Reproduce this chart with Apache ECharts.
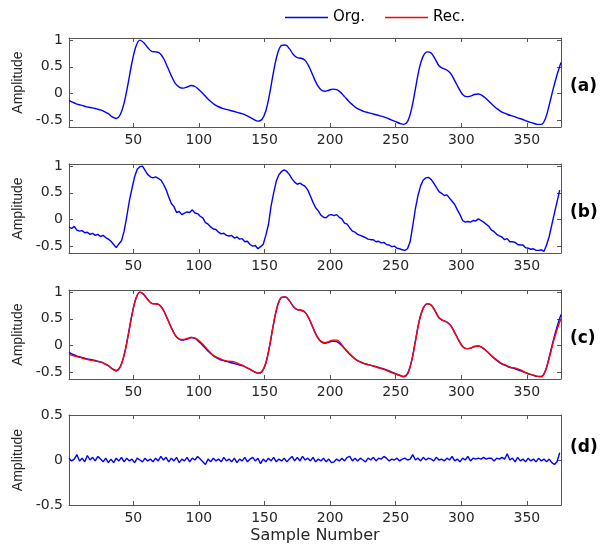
<!DOCTYPE html>
<html><head><meta charset="utf-8">
<script src="https://cdn.jsdelivr.net/npm/echarts@6/dist/echarts.min.js"></script>
<style>html,body{margin:0;padding:0;background:#fff}#c{width:602px;height:547px}</style>
</head><body><div id="c"></div>
<script>
// ---- data ----
// clean signal sampled every 3 samples starting at sample 1
const cleanFirst = 1, cleanStep = 3;
const orgVals = [
 -0.13,-0.17,-0.20,-0.22,-0.24,-0.26,-0.27,-0.29,-0.31,-0.34,
 -0.38,-0.44,-0.47,-0.40,-0.18,0.18,0.58,0.88,1.00,0.95,
 0.86,0.79,0.78,0.76,0.66,0.50,0.33,0.19,0.12,0.10,
 0.12,0.15,0.13,0.07,0.00,-0.08,-0.15,-0.21,-0.25,-0.28,
 -0.30,-0.32,-0.34,-0.36,-0.38,-0.41,-0.45,-0.49,-0.52,-0.49,
 -0.33,0.00,0.42,0.75,0.90,0.91,0.84,0.73,0.67,0.66,
 0.62,0.50,0.33,0.17,0.07,0.04,0.06,0.08,0.07,0.02,
 -0.06,-0.14,-0.21,-0.27,-0.31,-0.34,-0.36,-0.38,-0.40,-0.42,
 -0.44,-0.47,-0.50,-0.53,-0.56,-0.58,-0.53,-0.30,0.08,0.47,
 0.70,0.78,0.76,0.65,0.52,0.47,0.44,0.37,0.24,0.10,
 -0.02,-0.06,-0.05,-0.02,-0.01,-0.04,-0.10,-0.17,-0.24,-0.30,
 -0.35,-0.38,-0.41,-0.43,-0.46,-0.48,-0.51,-0.54,-0.56,-0.58,
 -0.58,-0.48,-0.22,0.08,0.35,0.58
];
const recVals = [
 -0.17,-0.19,-0.21,-0.23,-0.25,-0.27,-0.28,-0.30,-0.31,-0.34,
 -0.38,-0.44,-0.48,-0.41,-0.19,0.17,0.57,0.88,1.00,0.96,
 0.86,0.79,0.78,0.76,0.66,0.50,0.33,0.19,0.12,0.11,
 0.13,0.15,0.14,0.09,0.02,-0.06,-0.14,-0.20,-0.24,-0.27,
 -0.29,-0.30,-0.31,-0.34,-0.37,-0.41,-0.45,-0.49,-0.52,-0.50,
 -0.34,0.00,0.42,0.75,0.90,0.91,0.84,0.73,0.67,0.66,
 0.62,0.50,0.33,0.17,0.08,0.05,0.07,0.10,0.10,0.04,
 -0.05,-0.13,-0.21,-0.27,-0.31,-0.34,-0.36,-0.38,-0.40,-0.43,
 -0.45,-0.48,-0.51,-0.54,-0.56,-0.59,-0.54,-0.31,0.07,0.46,
 0.70,0.78,0.76,0.65,0.52,0.47,0.44,0.37,0.24,0.10,
 -0.02,-0.06,-0.05,-0.02,-0.01,-0.04,-0.10,-0.17,-0.23,-0.29,
 -0.34,-0.37,-0.41,-0.42,-0.44,-0.47,-0.51,-0.54,-0.56,-0.58,
 -0.59,-0.49,-0.24,0.05,0.30,0.50
];
// noisy signal and noise, every 2 samples starting at sample 1
const noisyFirst = 1, noisyStep = 2;
const noisyVals = [
 -0.14,-0.17,-0.13,-0.20,-0.22,-0.21,-0.25,-0.24,-0.28,-0.26,
 -0.30,-0.28,-0.32,-0.30,-0.34,-0.37,-0.41,-0.47,-0.53,-0.46,
 -0.40,-0.22,0.05,0.35,0.58,0.80,0.94,0.99,1.00,0.92,
 0.84,0.80,0.78,0.80,0.77,0.74,0.66,0.56,0.42,0.30,
 0.24,0.13,0.15,0.09,0.12,0.14,0.13,0.18,0.12,0.11,
 0.06,0.03,-0.06,-0.09,-0.14,-0.18,-0.19,-0.24,-0.27,-0.26,
 -0.30,-0.31,-0.30,-0.35,-0.33,-0.37,-0.36,-0.42,-0.41,-0.47,
 -0.50,-0.49,-0.55,-0.51,-0.47,-0.30,-0.10,0.25,0.50,0.72,
 0.84,0.90,0.93,0.90,0.84,0.76,0.70,0.66,0.68,0.65,
 0.62,0.55,0.44,0.32,0.22,0.16,0.08,0.04,0.03,0.08,
 0.09,0.07,0.09,0.04,0.01,-0.07,-0.09,-0.16,-0.22,-0.24,
 -0.28,-0.30,-0.32,-0.34,-0.37,-0.38,-0.38,-0.42,-0.41,-0.44,
 -0.43,-0.47,-0.48,-0.51,-0.50,-0.54,-0.55,-0.57,-0.58,-0.55,
 -0.42,-0.12,0.20,0.45,0.63,0.74,0.78,0.79,0.75,0.68,
 0.60,0.52,0.49,0.45,0.46,0.40,0.34,0.28,0.18,0.09,
 -0.02,-0.05,-0.04,-0.05,-0.02,-0.03,0.01,-0.02,-0.05,-0.09,
 -0.13,-0.20,-0.23,-0.28,-0.31,-0.33,-0.38,-0.36,-0.42,-0.42,
 -0.43,-0.47,-0.48,-0.48,-0.53,-0.54,-0.56,-0.55,-0.58,-0.58,
 -0.57,-0.60,-0.48,-0.32,-0.10,0.12,0.33,0.55
];
const noiseVals = [
 0.02,-0.01,0.01,0.06,-0.01,0.02,-0.02,0.05,0.00,0.03,
 -0.01,0.04,0.01,-0.02,0.02,-0.03,0.01,-0.03,0.02,-0.01,
 0.03,-0.02,0.02,-0.01,0.01,-0.03,0.02,0.00,-0.02,0.02,
 -0.01,0.01,-0.02,0.02,-0.01,0.04,0.00,0.03,-0.02,0.02,
 -0.01,0.03,-0.03,0.01,-0.01,0.03,-0.02,0.02,0.00,0.04,
 0.01,-0.02,-0.05,0.01,-0.02,0.02,-0.01,0.01,-0.02,0.03,
 -0.01,0.01,-0.02,0.02,-0.03,0.01,-0.01,0.03,-0.02,0.01,
 0.03,-0.01,0.02,-0.04,0.01,-0.02,0.02,-0.01,0.03,-0.02,
 0.01,-0.01,0.02,-0.02,0.01,0.04,-0.01,0.03,-0.01,0.04,
 0.00,0.02,-0.01,0.03,-0.02,0.01,-0.01,0.02,-0.02,0.01,
 -0.03,-0.02,0.01,-0.01,0.02,-0.01,0.03,0.04,-0.01,0.02,
 -0.01,0.02,0.00,-0.02,0.02,0.00,0.03,-0.01,0.02,0.01,
 0.04,0.02,-0.01,0.01,0.00,0.02,-0.01,0.01,0.02,0.00,
 0.01,0.06,0.00,0.02,-0.01,0.03,0.00,0.02,0.01,-0.01,
 0.03,0.00,0.01,-0.01,0.02,0.00,0.04,-0.01,0.01,-0.02,
 0.02,0.00,0.04,-0.01,0.02,0.01,0.02,0.01,0.03,0.01,
 0.02,0.02,-0.01,0.02,0.01,0.03,0.01,0.07,0.00,0.02,
 -0.02,0.03,-0.01,0.01,-0.02,0.02,-0.01,0.01,-0.02,0.02,
 -0.01,0.01,-0.02,0.01,-0.03,-0.05,-0.02,0.08
];
const xTicks = [50, 100, 150, 200, 250, 300, 350];
const ySigTicks = [-0.5, 0, 0.5, 1];
const yErrTicks = [-0.5, 0, 0.5];
const panelLabels = ['(a)', '(b)', '(c)', '(d)'];
const legendNames = ['Org.', 'Rec.'];
const xLabel = 'Sample Number';
const yLabel = 'Amplitude';

// ---- build ----
function pairs(first, step, vals) { return vals.map((v, i) => [first + i * step, v]); }

const WIDE = '"DejaVu Sans", "Liberation Sans", Arial, sans-serif';
const NARROW = '"Liberation Sans", Arial, Helvetica, sans-serif';
const AX = '#555555';
const TXT = '#262626';
const tops = [38, 164, 290, 415];
const heights = [89, 89, 89, 90];
const labelY = [88, 214, 340, 449];

const grid = tops.map((t, i) => ({ left: 69, top: t, width: 492, height: heights[i] }));
const xAxis = [], yAxis = [];
tops.forEach((t, i) => {
  xAxis.push({
    type: 'value', gridIndex: i, min: 1, max: 376, position: 'bottom',
    axisLine: { show: true, onZero: false, lineStyle: { color: AX, width: 1 } },
    axisTick: { show: true, inside: true, length: 4, customValues: xTicks, lineStyle: { color: AX } },
    axisLabel: { show: true, customValues: xTicks, fontSize: 14, color: TXT, fontFamily: WIDE, margin: 6 },
    splitLine: { show: false },
    name: i === 3 ? xLabel : '', nameLocation: 'middle', nameGap: 23,
    nameTextStyle: { fontSize: 16, color: TXT, fontFamily: WIDE }
  });
});
tops.forEach((t, i) => {
  xAxis.push({
    type: 'value', gridIndex: i, min: 1, max: 376, position: 'top',
    axisLine: { show: true, onZero: false, lineStyle: { color: AX, width: 1 } },
    axisTick: { show: true, inside: true, length: 4, customValues: xTicks, lineStyle: { color: AX } },
    axisLabel: { show: false }, splitLine: { show: false }
  });
});
tops.forEach((t, i) => {
  const err = i === 3;
  const ticks = err ? yErrTicks : ySigTicks;
  yAxis.push({
    type: 'value', gridIndex: i, min: err ? -0.5 : -0.63, max: err ? 0.5 : 1.04, position: 'left',
    axisLine: { show: true, onZero: false, lineStyle: { color: AX, width: 1 } },
    axisTick: { show: true, inside: true, length: 4, customValues: ticks, lineStyle: { color: AX } },
    axisLabel: { show: true, customValues: ticks, fontSize: 14, color: TXT, fontFamily: WIDE, margin: 6,
      formatter: v => String(v) },
    splitLine: { show: false },
    name: yLabel, nameLocation: 'middle', nameGap: 43, nameRotate: 90,
    nameTextStyle: { fontSize: 14, color: TXT, fontFamily: NARROW }
  });
});
tops.forEach((t, i) => {
  const err = i === 3;
  const ticks = err ? yErrTicks : ySigTicks;
  yAxis.push({
    type: 'value', gridIndex: i, min: err ? -0.5 : -0.63, max: err ? 0.5 : 1.04, position: 'right',
    axisLine: { show: true, onZero: false, lineStyle: { color: AX, width: 1 } },
    axisTick: { show: true, inside: true, length: 4, customValues: ticks, lineStyle: { color: AX } },
    axisLabel: { show: false }, splitLine: { show: false }
  });
});

const BLUE = '#0000ff', RED = '#ff0000';
function line(name, data, gi, color, smooth, z) {
  return { type: 'line', name, data, xAxisIndex: gi, yAxisIndex: gi, showSymbol: false, symbol: 'none',
    smooth: smooth, lineStyle: { color, width: 1.4 }, itemStyle: { color }, z: z || 2, clip: true };
}
const series = [
  line(legendNames[0], pairs(cleanFirst, cleanStep, orgVals), 0, BLUE, 0.35),
  line(legendNames[0], pairs(noisyFirst, noisyStep, noisyVals), 1, BLUE, false),
  line(legendNames[0], pairs(cleanFirst, cleanStep, orgVals), 2, BLUE, 0.35),
  line(legendNames[1], pairs(cleanFirst, cleanStep, recVals), 2, RED, 0.35, 3),
  line(legendNames[0], pairs(noisyFirst, noisyStep, noiseVals), 3, BLUE, false)
];

const graphic = panelLabels.map((s, i) => ({
  type: 'text', left: 570, top: labelY[i] - 10,
  style: { text: s, font: 'bold 17px ' + WIDE, fill: '#000' }
}));

const chart = echarts.init(document.getElementById('c'), null, { renderer: 'canvas' });
chart.setOption({
  animation: false,
  backgroundColor: '#fff',
  grid, xAxis, yAxis, series, graphic,
  legend: {
    data: legendNames.map(n => ({ name: n, icon: 'rect' })),
    left: 285, top: 10, padding: 0, itemWidth: 43, itemHeight: 1.5, itemGap: 20,
    textStyle: { fontSize: 15, color: '#000', fontFamily: WIDE }
  }
});
</script></body></html>
